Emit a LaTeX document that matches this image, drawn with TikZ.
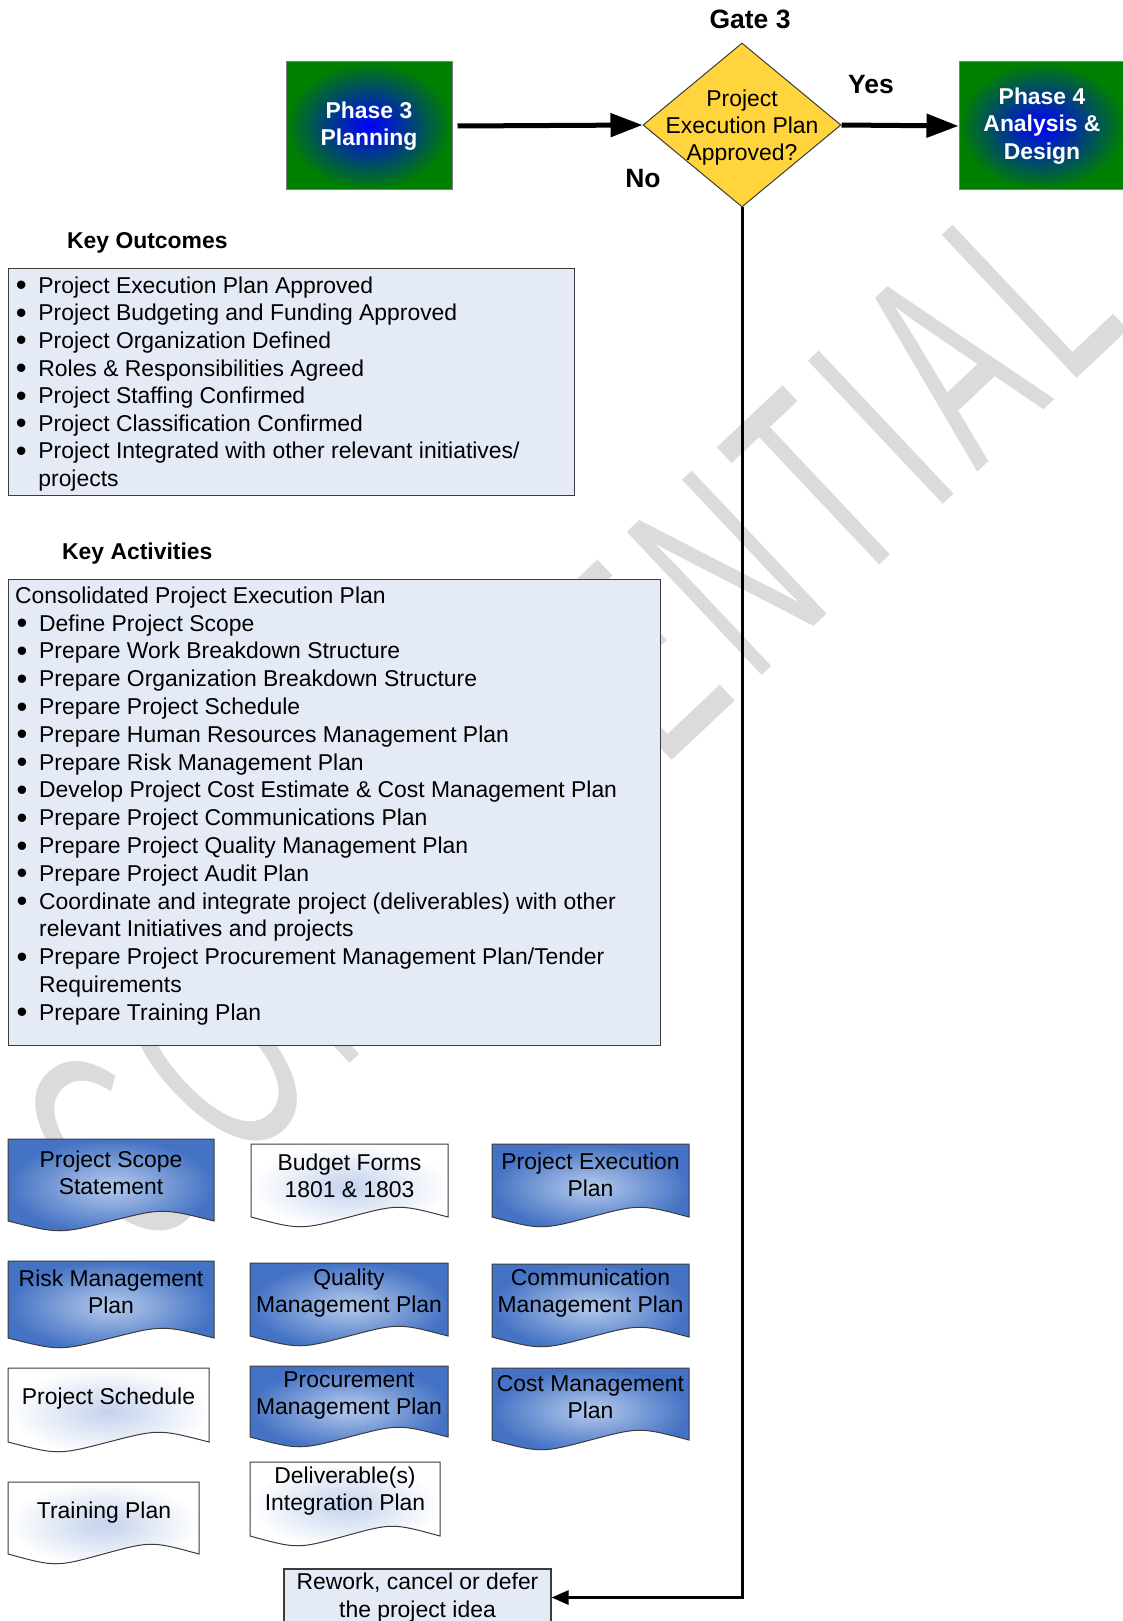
\documentclass[tikz,border=0pt]{standalone}
\usepackage{fontspec}
\setmainfont{Liberation Sans}
\usetikzlibrary{shapes.geometric,arrows.meta,positioning}

\definecolor{boxfill}{RGB}{229,235,246}
\definecolor{boxline}{RGB}{60,60,60}
\definecolor{docblue}{RGB}{68,114,196}
\definecolor{doclight}{RGB}{182,203,236}
\definecolor{docpale}{RGB}{196,210,237}
\definecolor{gategold}{RGB}{255,212,60}
\definecolor{phasegreen}{RGB}{0,128,0}
\definecolor{phaseblue}{RGB}{0,0,255}
\definecolor{wmgray}{RGB}{219,219,219}

\newcommand{\bul}{\makebox[22.5pt][l]{\raisebox{-2.5pt}{\scalebox{1.35}{\textbullet}}}}
\newcommand{\wg}{\hspace{0.107em}}
\newcommand{\docshape}[5]{%
  \path[#1] (#2,#3) -- (#4,#3) -- (#4,#5)
    .. controls ({#4-(#4-#2)/4},{#5-13}) .. ({(#2+#4)/2},#5)
    .. controls ({#2+(#4-#2)/4},{#5+13}) .. (#2,#5) -- cycle;}

\begin{document}
\begin{tikzpicture}[
  x=1pt, y=-1pt,
  every node/.style={font=\fontsize{22.9}{27.6}\selectfont},
  phase/.style={draw=gray, line width=1pt, minimum width=166pt, minimum height=128pt,
    inner color=phaseblue, outer color=phasegreen, text=white, align=center,
    font=\fontsize{22.9}{27.6}\selectfont\bfseries},
  gate/.style={diamond, draw=boxline, line width=1pt, fill=gategold,
    minimum width=198pt, minimum height=164pt, inner sep=0pt},
  gatetext/.style={align=center, inner sep=0pt, font=\fontsize{22.9}{27}\selectfont},
  bigword/.style={inner sep=0pt, font=\fontsize{26.5}{30}\selectfont\bfseries},
  heading/.style={inner sep=0pt, anchor=base west, font=\fontsize{22.9}{27.6}\selectfont\bfseries},
  listbox/.style={draw=boxline, line width=1.2pt, fill=boxfill, inner sep=0pt},
  listtext/.style={anchor=north west, align=left, inner sep=0pt},
  doctext/.style={align=center, inner sep=0pt, font=\fontsize{22.9}{27}\selectfont},
  bluedoc/.style={draw=boxline, line width=1pt, inner color=doclight, outer color=docblue},
  whitedoc/.style={draw=boxline, line width=1pt, inner color=docpale, outer color=white},
  flow/.style={line width=5pt, -{Triangle[length=32pt,width=23pt]}},
  back/.style={line width=3pt, -{Triangle[length=17pt,width=14pt]}},
  watermark/.style={text=wmgray, rotate=43.3, inner sep=0pt, font=\fontsize{286}{286}\selectfont}
]
\useasboundingbox (0,0) rectangle (1123,1621);

\node[watermark, anchor=base east] (stamp) at (1133,326)
  {\scalebox{0.56}[1]{C\wg O\wg N\wg F\wg I\wg D\wg E\wg N\wg T\wg I\wg A\wg L}};

\node[phase] (phase3) at (369,126) {Phase 3\\Planning};
\node[gate] (gate) at (742,125) {};
\node[gatetext] (gatelbl) at (742,128) {Project\\Execution Plan\\Approved?};
\node[phase] (phase4) at (1042,126) {Phase 4\\Analysis \&\\Design};
\node[bigword] (gatename) at (750,19) {Gate 3};
\node[bigword] (yes) at (871,85) {Yes};
\node[bigword] (no) at (643,179) {No};

\draw[flow] ([xshift=5pt]phase3.east) -- (gate.west);
\draw[flow] (gate.east) -- (phase4.west);

\node[heading] (outhead) at (67,248) {Key Outcomes};
\node[listbox, anchor=north west, minimum width=566pt, minimum height=227pt] (outbox) at (8,268) {};
\node[listtext] (outlist) at (15.7,276.5) {%
  \bul Project Execution Plan Approved\\
  \bul Project Budgeting and Funding Approved\\
  \bul Project Organization Defined\\
  \bul Roles \& Responsibilities Agreed\\
  \bul Project Staffing Confirmed\\
  \bul Project Classification Confirmed\\
  \bul Project Integrated with other relevant initiatives/\\
  \hspace*{22.5pt}projects};

\node[heading] (acthead) at (62,559) {Key Activities};
\node[listbox, anchor=north west, minimum width=652pt, minimum height=466pt] (actbox) at (8,579) {};
\node[listtext, font=\fontsize{22.9}{27.8}\selectfont] (actlist) at (16.5,586.5) {%
  \hspace*{-1.5pt}Consolidated Project Execution Plan\\
  \bul Define Project Scope\\
  \bul Prepare Work Breakdown Structure\\
  \bul Prepare Organization Breakdown Structure\\
  \bul Prepare Project Schedule\\
  \bul Prepare Human Resources Management Plan\\
  \bul Prepare Risk Management Plan\\
  \bul Develop Project Cost Estimate \& Cost Management Plan\\
  \bul Prepare Project Communications Plan\\
  \bul Prepare Project Quality Management Plan\\
  \bul Prepare Project Audit Plan\\
  \bul Coordinate and integrate project (deliverables) with other\\
  \hspace*{22.5pt}relevant Initiatives and projects\\
  \bul Prepare Project Procurement Management Plan/Tender\\
  \hspace*{22.5pt}Requirements\\
  \bul Prepare Training Plan};

\docshape{bluedoc}{8}{1139}{214}{1221}
\node[doctext] (scope) at (111,1173) {Project Scope\\Statement};
\docshape{whitedoc}{251}{1144}{448}{1217}
\node[doctext] (budget) at (349.5,1176) {Budget Forms\\1801 \& 1803};
\docshape{bluedoc}{492}{1144}{689}{1217}
\node[doctext] (execplan) at (590.5,1174.5) {Project Execution\\Plan};

\docshape{bluedoc}{8}{1261}{214}{1338}
\node[doctext] (risk) at (111,1292) {Risk Management\\Plan};
\docshape{bluedoc}{250}{1263}{448}{1336}
\node[doctext] (quality) at (349,1293) {Quality\\Management Plan};
\docshape{bluedoc}{492}{1264}{689}{1337}
\node[doctext] (comm) at (590.5,1293.5) {Communication\\Management Plan};

\docshape{whitedoc}{8}{1368}{209}{1442}
\node[doctext] (schedule) at (108.5,1399) {Project Schedule};
\docshape{bluedoc}{250}{1366}{448}{1437}
\node[doctext] (procure) at (349,1395) {Procurement\\Management Plan};
\docshape{bluedoc}{492}{1368}{689}{1440}
\node[doctext] (cost) at (590.5,1397) {Cost Management\\Plan};

\docshape{whitedoc}{8}{1482}{199}{1554}
\node[doctext] (training) at (104,1513) {Training Plan};
\docshape{whitedoc}{250}{1462}{440}{1536}
\node[doctext] (integr) at (345,1491.5) {Deliverable(s)\\Integration Plan};

\node[listbox, align=center, minimum width=267pt, minimum height=57pt] (rework) at (417.5,1597.5) {Rework, cancel or defer\\the project idea};

\draw[back] (gate.south) |- (rework.east);
\end{tikzpicture}
\end{document}
